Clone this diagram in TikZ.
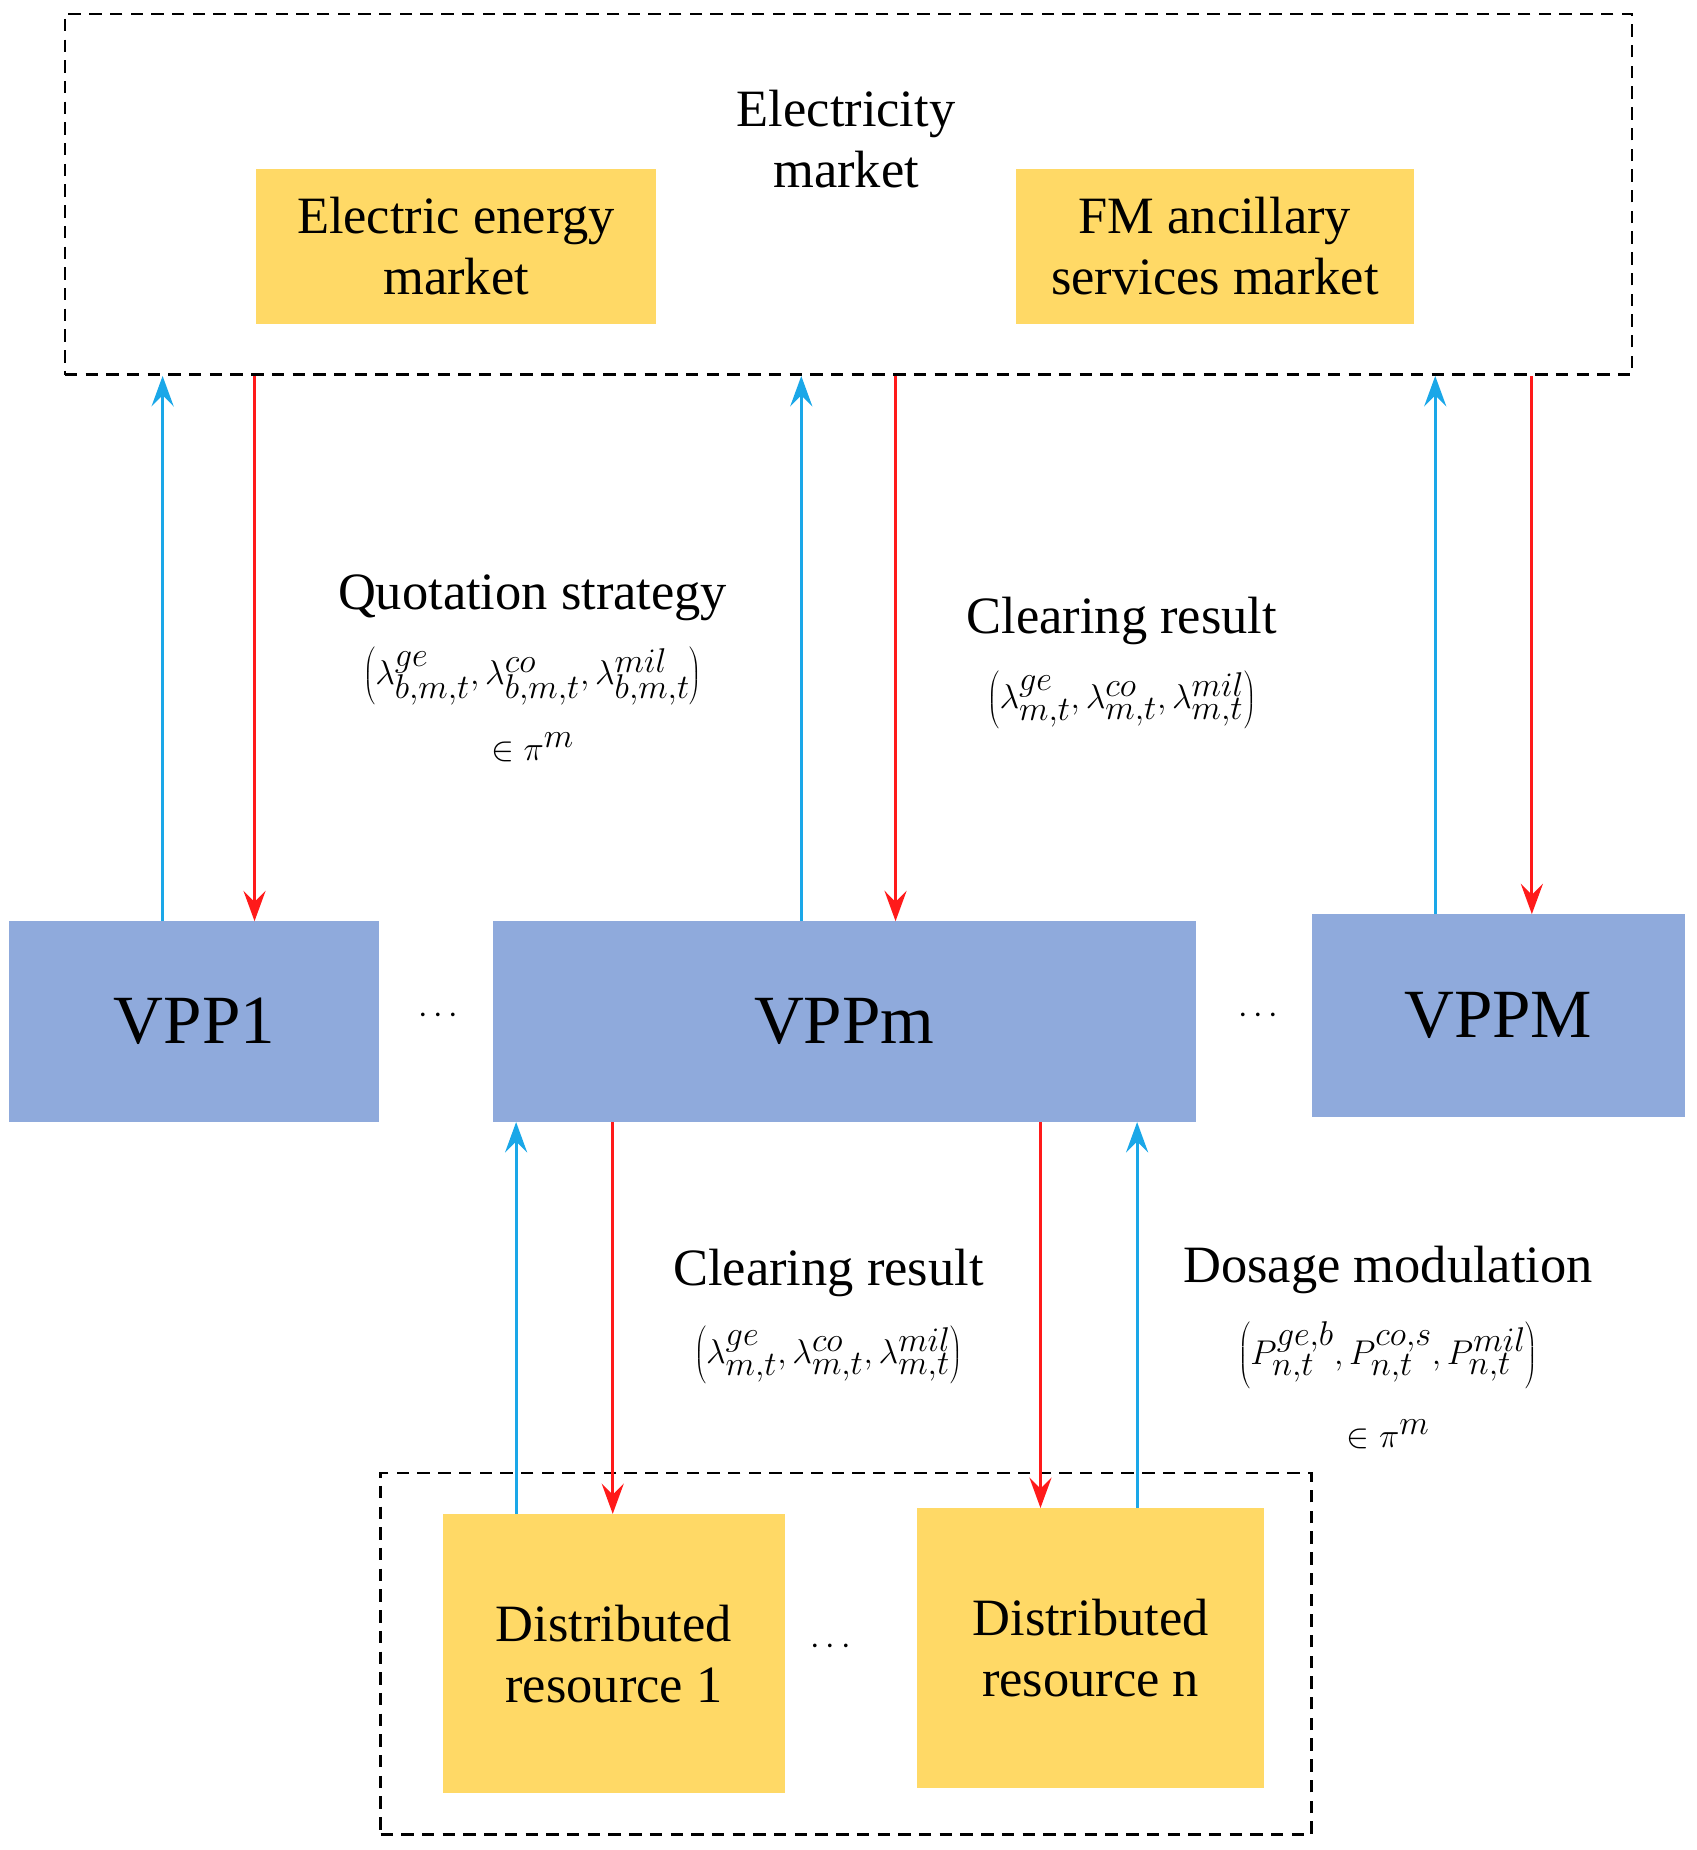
\documentclass[tikz,border=0pt]{standalone}
\usepackage{fontspec}
\setmainfont{Liberation Serif}
\usetikzlibrary{fit,arrows.meta}
\definecolor{gold}{HTML}{FFD966}
\definecolor{vblue}{HTML}{8FAADC}
\definecolor{ablue}{HTML}{1AA7E8}
\definecolor{ared}{HTML}{FF1A1A}
\begin{document}
\begin{tikzpicture}[x=0.03cm,y=-0.03cm,
  dbox/.style={draw=black,line width=1.8pt,dash pattern=on 9pt off 6pt,inner sep=0pt},
  gbox/.style={fill=gold,inner sep=0pt},
  vbox/.style={fill=vblue,inner sep=0pt},
  up/.style={draw=ablue,line width=2.2pt,-{Stealth[length=22pt,width=16pt,inset=8pt]}},
  dn/.style={draw=ared,line width=2.2pt,-{Stealth[length=22pt,width=16pt,inset=8pt]}},
  txt/.style={font=\fontsize{38}{44}\selectfont,align=center},
  big/.style={font=\fontsize{50}{56}\selectfont},
  mth/.style={font=\fontsize{38}{44}\selectfont}]
\useasboundingbox (0,0) rectangle (1440,1570);
\node[dbox,fit={(55,12)(1385,318)}] (outer) {};
\node[txt] (em) at (718,118) {Electricity\\market};
\node[gbox,fit={(217,143)(557,275)}] (eem) {};
\node[txt] at (eem.center) {Electric energy\\market};
\node[gbox,fit={(862,143)(1200,275)}] (fm) {};
\node[txt] at (fm.center) {FM ancillary\\services market};
\node[vbox,fit={(8,782)(322,952)}] (v1) {};
\node[big] at (v1.center) {VPP1};
\node[vbox,fit={(418,782)(1015,952)}] (vm) {};
\node[big] at (vm.center) {VPPm};
\node[vbox,fit={(1113,776)(1430,948)}] (vM) {};
\node[big] at (vM.center) {VPPM};
\node[big] (d1) at (372,862) {$\cdots$};
\node[big] (d2) at (1068,862) {$\cdots$};
\node[dbox,fit={(323,1250)(1113,1557)}] (inner) {};
\node[gbox,fit={(376,1285)(666,1522)}] (r1) {};
\node[txt] at (r1.center) {Distributed\\resource 1};
\node[gbox,fit={(778,1280)(1073,1517)}] (rn) {};
\node[txt] at (rn.center) {Distributed\\resource n};
\node[big] (d3) at (705,1398) {$\cdots$};
\foreach \n/\x in {a/138,b/216,c/680,d/760,e/1218,f/1300,g/438,h/520,i/883,j/965}
  \coordinate (x\n) at (\x,0);
\draw[up] (v1.north -| xa) -- (outer.south -| xa);
\draw[dn] (outer.south -| xb) -- (v1.north -| xb);
\draw[up] (vm.north -| xc) -- (outer.south -| xc);
\draw[dn] (outer.south -| xd) -- (vm.north -| xd);
\draw[up] (vM.north -| xe) -- (outer.south -| xe);
\draw[dn] (outer.south -| xf) -- (vM.north -| xf);
\draw[up] (r1.north -| xg) -- (vm.south -| xg);
\draw[dn] (vm.south -| xh) -- (r1.north -| xh);
\draw[dn] (vm.south -| xi) -- (rn.north -| xi);
\draw[up] (rn.north -| xj) -- (vm.south -| xj);
\node[txt] (q1) at (452,507) {Quotation strategy};
\node[mth] (q2) at (452,574) {$\left(\lambda^{ge}_{b,m,t},\lambda^{co}_{b,m,t},\lambda^{mil}_{b,m,t}\right)$};
\node[mth] (q3) at (452,634) {$\in\pi^{m}$};
\node[txt] (c1) at (952,527) {Clearing result};
\node[mth] (c2) at (952,594) {$\left(\lambda^{ge}_{m,t},\lambda^{co}_{m,t},\lambda^{mil}_{m,t}\right)$};
\node[txt] (c3) at (703,1080) {Clearing result};
\node[mth] (c4) at (703,1150) {$\left(\lambda^{ge}_{m,t},\lambda^{co}_{m,t},\lambda^{mil}_{m,t}\right)$};
\node[txt] (m1) at (1178,1078) {Dosage modulation};
\node[mth] (m2) at (1178,1150) {$\left(P^{ge,b}_{n,t},P^{co,s}_{n,t},P^{mil}_{n,t}\right)$};
\node[mth] (m3) at (1178,1217) {$\in\pi^{m}$};
\end{tikzpicture}
\end{document}
